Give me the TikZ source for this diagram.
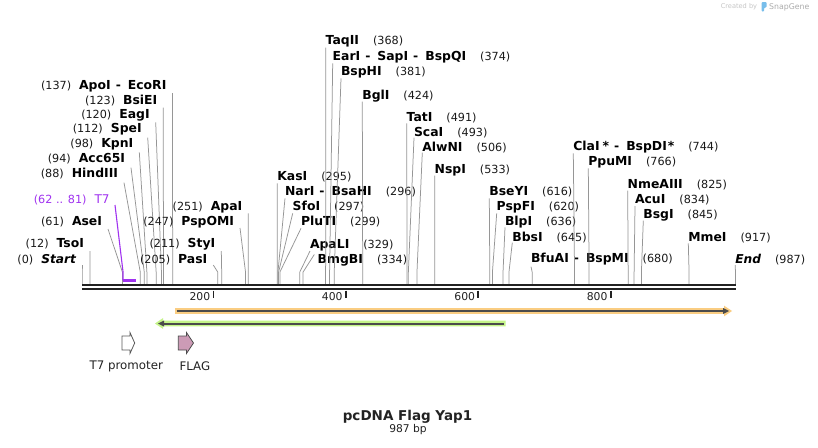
\documentclass[tikz,border=0pt]{standalone}
\usepackage{fontspec}
\setmainfont{DejaVu Sans}
\definecolor{cutgray}{RGB}{150,150,150}
\definecolor{bbc}{RGB}{34,34,34}
\definecolor{tsev}{RGB}{160,50,240}
\definecolor{orfo}{RGB}{250,205,130}
\definecolor{orfg}{RGB}{196,244,136}
\definecolor{darkline}{RGB}{75,75,75}
\definecolor{flagpink}{RGB}{204,155,182}
\definecolor{numc}{RGB}{25,25,25}
\definecolor{sgblue}{RGB}{120,190,235}
\newcommand\nm[1]{{\fontsize{12.4}{14}\selectfont\bfseries #1}}
\newcommand\nmi[1]{{\fontsize{12.2}{14}\selectfont\bfseries\itshape #1}}
\newcommand\nb[1]{{\fontsize{11.2}{14}\selectfont\color{numc}(#1)}}
\newcommand\dsh{\hspace{5pt}-\hspace{7pt}}
\newcommand\cutL[6]{%
  \coordinate (s#1) at ({82+0.662*#2},284);
  \coordinate (t#1) at (#3,#4);
  \node[lbl,anchor=east] (l#1) at ({#3-6},#5) {#6};
  \draw[cut] (s#1) -- ++(0,-12) -- (t#1);}
\newcommand\cutR[6]{%
  \coordinate (s#1) at ({82+0.662*#2},284);
  \coordinate (t#1) at (#3,#4);
  \node[lbl,anchor=west] (l#1) at (#3,#5) {#6};
  \draw[cut] (s#1) -- ++(0,-12) -- (t#1);}
\begin{document}
\begin{tikzpicture}[x=1pt,y=-1pt,
  lbl/.style={inner sep=0pt,outer sep=0pt},
  cut/.style={draw=cutgray,line width=0.75pt},
  bbline/.style={draw=bbc,line width=2.4pt},
  tickmark/.style={draw=bbc,line width=1.8pt},
  tlbl/.style={inner sep=0pt,font=\fontsize{10.8}{12}\selectfont,text=bbc},
  featlbl/.style={inner sep=0pt,font=\fontsize{11.8}{13}\selectfont,text=bbc}]
\useasboundingbox (0,0) rectangle (818,447);
\fill[white] (0,0) rectangle (818,447);

% backbone
\coordinate (bL1) at (82,285.2); \coordinate (bR1) at (736,285.2);
\coordinate (bL2) at (82,289.2); \coordinate (bR2) at (736,289.2);

% left-side labels
\cutL{Start}{0}{82}{265}{260}{\nb{0}\hspace{8pt}\nmi{Start}}
\cutL{TsoI}{12}{90}{251}{244}{\nb{12}\hspace{8pt}\nm{TsoI}}
\cutL{AseI}{61}{108}{229}{222}{\nb{61}\hspace{8pt}\nm{AseI}}
\cutL{HindIII}{88}{124}{182.7}{174}{\nb{88}\hspace{8pt}\nm{HindIII}}
\cutL{Acc}{94}{131}{167.7}{159}{\nb{94}\hspace{8pt}\nm{Acc65I}}
\cutL{KpnI}{98}{139.3}{152.3}{144}{\nb{98}\hspace{8pt}\nm{KpnI}}
\cutL{SpeI}{112}{147.7}{137.7}{129}{\nb{112}\hspace{8pt}\nm{SpeI}}
\cutL{EagI}{120}{155.7}{122.3}{115}{\nb{120}\hspace{8pt}\nm{EagI}}
\cutL{BsiEI}{123}{163.3}{107.7}{101}{\nb{123}\hspace{8pt}\nm{BsiEI}}
\cutL{ApoI}{137}{172.4}{93}{86}{\nb{137}\hspace{8pt}\nm{ApoI\dsh EcoRI}}
\cutL{PasI}{205}{213.3}{265}{260}{\nb{205}\hspace{8pt}\nm{PasI}}
\cutL{StyI}{211}{221.3}{251}{244}{\nb{211}\hspace{8pt}\nm{StyI}}
\cutL{PspOMI}{247}{240}{228}{222}{\nb{247}\hspace{8pt}\nm{PspOMI}}
\cutL{ApaI}{251}{248.3}{213.3}{207}{\nb{251}\hspace{8pt}\nm{ApaI}}

% right-side labels
\cutR{KasI}{295}{277.3}{183.3}{176.7}{\nm{KasI}\hspace{14pt}\nb{295}}
\cutR{NarI}{296}{285}{198.3}{191.7}{\nm{NarI\dsh BsaHI}\hspace{14pt}\nb{296}}
\cutR{SfoI}{297}{292.7}{213.3}{206.7}{\nm{SfoI}\hspace{14pt}\nb{297}}
\cutR{PluTI}{299}{301}{228.3}{221.7}{\nm{PluTI}\hspace{14pt}\nb{299}}
\cutR{ApaLI}{329}{310}{251}{245}{\nm{ApaLI}\hspace{14pt}\nb{329}}
\coordinate (sBmgBI) at ({82+0.662*334},284);
\coordinate (tBmgBI) at (314.3,254.5);
\node[lbl,anchor=west] (lBmgBI) at (317.7,260) {\nm{BmgBI}\hspace{14pt}\nb{334}};
\draw[cut] (sBmgBI) -- ++(0,-12) -- (tBmgBI);
\cutR{TaqII}{368}{325.7}{47.7}{41.7}{\nm{TaqII}\hspace{14pt}\nb{368}}
\cutR{EarI}{374}{332.7}{63.3}{57.3}{\nm{EarI\dsh SapI\dsh BspQI}\hspace{14pt}\nb{374}}
\cutR{BspHI}{381}{341}{78.3}{72.3}{\nm{BspHI}\hspace{14pt}\nb{381}}
\cutR{BglI}{424}{362.3}{101.7}{95.7}{\nm{BglI}\hspace{14pt}\nb{424}}
\cutR{TatI}{491}{406.7}{123.3}{117.7}{\nm{TatI}\hspace{14pt}\nb{491}}
\cutR{ScaI}{493}{414}{137.7}{132.3}{\nm{ScaI}\hspace{14pt}\nb{493}}
\cutR{AlwNI}{506}{422.3}{152.7}{147.7}{\nm{AlwNI}\hspace{14pt}\nb{506}}
\cutR{NspI}{533}{434.7}{175.7}{170.7}{\nm{NspI}\hspace{14pt}\nb{533}}
\cutR{BseYI}{616}{489.3}{198.3}{191.7}{\nm{BseYI}\hspace{14pt}\nb{616}}
\cutR{PspFI}{620}{496.7}{213.3}{207.3}{\nm{PspFI}\hspace{14pt}\nb{620}}
\cutR{BlpI}{636}{505}{227.3}{222.3}{\nm{BlpI}\hspace{14pt}\nb{636}}
\cutR{BbsI}{645}{512.3}{242.7}{237.3}{\nm{BbsI}\hspace{14pt}\nb{645}}
\cutR{BfuAI}{680}{531}{266.7}{259}{\nm{BfuAI\dsh BspMI}\hspace{14pt}\nb{680}}
\cutR{ClaI}{744}{573.3}{153.3}{146.7}{\nm{ClaI\hspace{3pt}*\dsh BspDI\hspace{1pt}*}\hspace{14pt}\nb{744}}
\cutR{PpuMI}{766}{588.3}{168.3}{162.3}{\nm{PpuMI}\hspace{14pt}\nb{766}}
\cutR{NmeAIII}{825}{627.7}{190.7}{184.3}{\nm{NmeAIII}\hspace{14pt}\nb{825}}
\cutR{AcuI}{834}{635}{206}{200}{\nm{AcuI}\hspace{14pt}\nb{834}}
\cutR{BsgI}{845}{643.3}{220.7}{215}{\nm{BsgI}\hspace{14pt}\nb{845}}
\cutR{MmeI}{917}{688.3}{243.3}{237.3}{\nm{MmeI}\hspace{14pt}\nb{917}}
\cutR{End}{987}{735.3}{265}{260}{\nmi{End}\hspace{14pt}\nb{987}}

% T7 feature mark
\coordinate (t7a) at ({82+0.662*62},280.7);
\coordinate (t7b) at ({82+0.662*81},280.7);
\coordinate (t7top) at (115,205);
\node[lbl,anchor=east,text=tsev] (lT7) at (109.5,200)
  {{\fontsize{11.2}{14}\selectfont(62 .. 81)}\hspace{8pt}{\fontsize{12}{14}\selectfont T7}};
\draw[tsev,line width=2.6pt] (t7a) -- (t7b);
\draw[tsev,line width=1.1pt] (t7a) -- ++(0,-8.7) -- (t7top);

% backbone lines
\draw[bbline] (bL1) -- (bR1);
\draw[bbline] (bL2) -- (bR2);

% ticks
\foreach \v in {200,400,600,800}{
  \coordinate (k\v) at ({82+0.662*\v-1},290.5);
  \draw[tickmark] (k\v) -- ++(0,7);
  \node[tlbl,anchor=east] (kl\v) at ({82+0.662*\v-4},297) {\v};
}

% orange forward arrow
\fill[orfo] (175,308.2) -- (724,308.2) -- (724,305.6) -- (732,311) -- (724,316.4) -- (724,313.8) -- (175,313.8) -- cycle;
\draw[darkline,line width=2pt] (176.5,311) -- (724,311);
\fill[darkline] (723,308) -- (729,311) -- (723,314) -- cycle;

% green reverse arrow
\fill[orfg] (505.7,320.6) -- (163,320.6) -- (163,318.1) -- (155,323.5) -- (163,328.9) -- (163,326.4) -- (505.7,326.4) -- cycle;
\draw[darkline,line width=2pt] (503.5,323.5) -- (163,323.5);
\fill[darkline] (164,320.5) -- (158,323.5) -- (164,326.5) -- cycle;

% features
\draw[fill=white,draw=gray!70!black,line width=0.8pt]
  (122,336) -- (130,336) -- (130,332.5) -- (134.7,343) -- (130,353.5) -- (130,350) -- (122,350) -- cycle;
\draw[fill=flagpink,draw=darkline,line width=0.8pt]
  (178.3,336) -- (186.5,336) -- (186.5,332.5) -- (193.5,343) -- (186.5,353.5) -- (186.5,350) -- (178.3,350) -- cycle;
\node[featlbl] (fT7) at (126.3,366) {T7 promoter};
\node[featlbl,anchor=west] (fFLAG) at (179.3,366) {FLAG};

% title
\node[inner sep=0pt,font=\fontsize{13.5}{15}\selectfont\bfseries,text=bbc] (title) at (407.5,416.7) {pcDNA Flag Yap1};
\node[inner sep=0pt,font=\fontsize{10.7}{12}\selectfont,text=bbc] (bp) at (408,429.3) {987 bp};

% SnapGene credit
\node[inner sep=0pt,anchor=east,font=\fontsize{6.6}{8}\selectfont,text=gray!45] (cb) at (757.3,7) {Created by};
\fill[sgblue,rounded corners=1pt] (761.5,2) -- (766.5,2) -- (766.5,7.5) -- (764,7.5) -- (764,11.5) -- (761.5,11.5) -- cycle;
\node[inner sep=0pt,anchor=west,font=\fontsize{7.8}{9}\selectfont,text=gray!65] (sg) at (769,7) {SnapGene};
\end{tikzpicture}
\end{document}
